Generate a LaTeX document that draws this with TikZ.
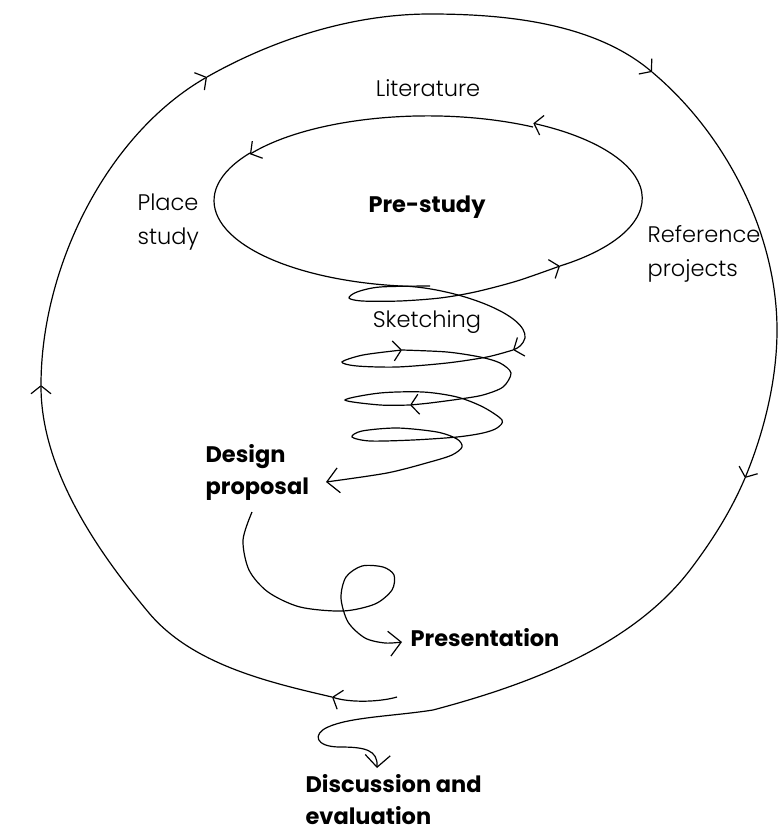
\documentclass[tikz,border=0pt]{standalone}
\usepackage{fontspec}
\setmainfont{Poppins}[UprightFont={* Light},BoldFont={* Bold}]
\usetikzlibrary{arrows.meta}

\tikzset{
	midflow/.style={-{Straight Barb[length=8pt,width=20pt]}},
	ring/.style={x radius=214, y radius=86},
	label/.style={inner sep=0pt, align=left},
	stage/.style={inner sep=0pt, align=left, font=\fontsize{22.5}{32}\selectfont\bfseries}
}

\begin{document}
\begin{tikzpicture}[
	>={Straight Barb[length=12pt,width=25pt]},
	line width=1.2pt,
	x=1pt,y=-1pt,
	font=\fontsize{22.5}{34}\selectfont
	]
	\useasboundingbox (0,0) rectangle (779,834);

	% labels
	\node[label] (literature) at (428, 88) {Literature};
	\node[label, anchor=west] (place_study) at (137, 222) {Place\\study};
	\node[stage] (pre_study) at (427, 207) {Pre-study};
	\node[label, anchor=west] (reference_projects) at (647, 254) {Reference\\projects};
	\node[label] (sketching) at (427, 322) {Sketching};
	\node[stage, anchor=west] (design_proposal) at (205, 472) {Design\\proposal};
	\node[stage, anchor=west] (presentation) at (410, 638) {Presentation};
	\node[stage, anchor=west] (discussion) at (305, 800) {Discussion and\\evaluation};

	% outer loop
	\draw[midflow] (397,697) .. controls (380,702) and (350,703) .. (332,697);
	\draw[midflow] (332,697) .. controls (267,682) and (192,664) .. (149,613)
		.. controls (98,552) and (41,470) .. (41,385);
	\draw[midflow] (41,385) .. controls (41,268) and (106,135) .. (207,77);
	\draw[midflow] (207,77) .. controls (274,39) and (353,14) .. (430,14)
		.. controls (506,14) and (594,23) .. (652,72);
	\draw[midflow] (652,72) .. controls (726,134) and (777,234) .. (777,330)
		.. controls (777,380) and (764,432) .. (745,478);
	\draw[->] (745,478) .. controls (731,511) and (712,541) .. (690,570)
		.. controls (631,647) and (527,685) .. (433,710)
		.. controls (395,716) and (350,717) .. (328,727)
		.. controls (312,734) and (315,747) .. (340,747)
		.. controls (365,747) and (378,750) .. (377,768);

	% pre-study ring
	\draw[midflow] plot[smooth] coordinates {(430,286) (380,287) (357,292)
		(349,298) (362,301) (400,301) (440,298) (475,292) (517,281) (560,266)};
	\draw[midflow] (560,266) arc[ring, start angle=52, end angle=-60.6];
	\draw[midflow] (533,127) arc[ring, start angle=-60.6, end angle=-146.3];
	\draw[midflow] (250,153) arc[ring, start angle=-146.3, end angle=-265]
		.. controls (460,290) and (528,315) .. (525,338)
		.. controls (523,345) and (518,348) .. (513,350);

	% sketching coil
	\draw[midflow] plot[smooth] coordinates {(513,350) (487,357) (447,363)
		(397,367) (357,366) (342,362) (363,355) (402,350)};
	\draw[midflow] plot[smooth] coordinates {(402,350) (447,352) (480,357)
		(500,363) (511,373) (503,387) (483,395) (460,399) (430,403) (410,405)};
	\draw[->] plot[smooth] coordinates {(410,405) (380,405) (345,400)
		(380,393) (423,392) (457,397) (483,407) (502,420) (497,428) (483,433)
		(457,437) (413,440) (370,441) (352,437) (362,431) (397,428) (437,432)
		(457,439) (462,447) (452,455) (430,462) (387,473) (326,482)};

	% design proposal to presentation
	\draw[->] plot[smooth] coordinates {(252,512) (243,540) (249,570) (268,592)
		(300,607) (343,611) (375,604) (392,590) (394,575) (383,567) (362,566)
		(346,577) (341,598) (348,622) (365,638) (385,643) (402,642)};

\end{tikzpicture}
\end{document}
